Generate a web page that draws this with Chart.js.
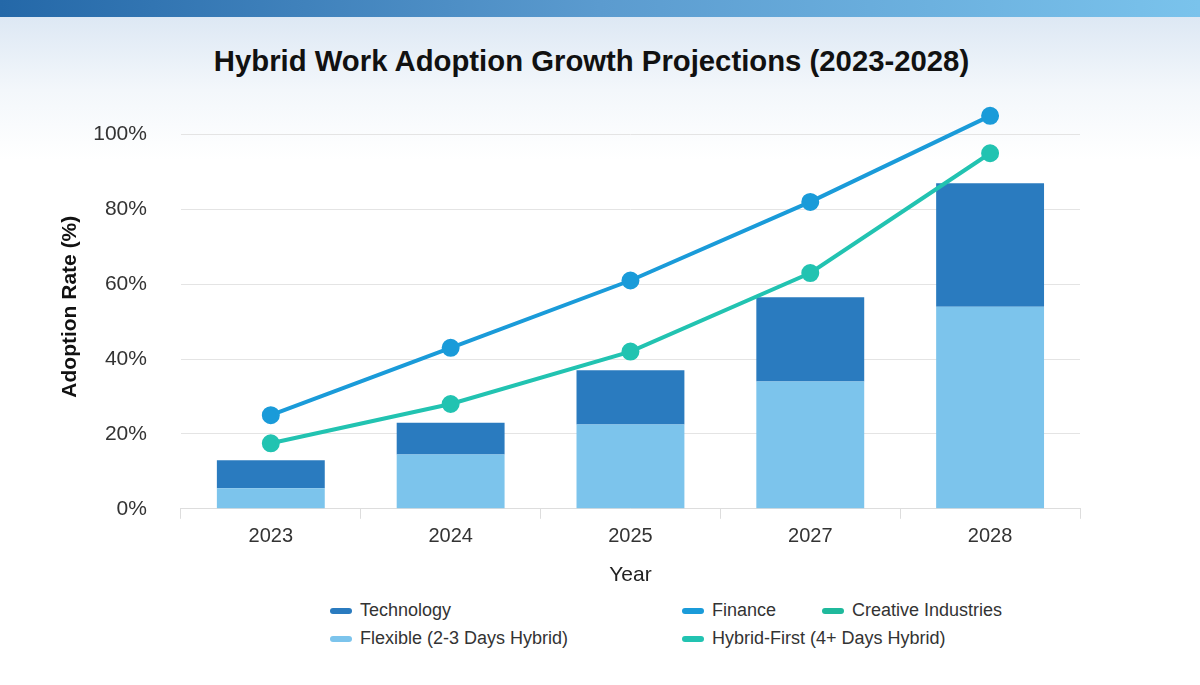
<!DOCTYPE html>
<html>
<head>
<meta charset="utf-8">
<script src="https://cdn.jsdelivr.net/npm/chart.js@4"></script>
<style>
  body { margin: 0; width: 1200px; height: 685px; overflow: hidden; font-family: "Liberation Sans", Arial, sans-serif;
    background: linear-gradient(to bottom, #dde8f4 17px, #f3f7fb 90px, #ffffff 160px); position: relative; }
  #topbar { position: absolute; left: 0; top: 0; width: 1200px; height: 17px; background: linear-gradient(to right, #2468a8, #5b9bcf 50%, #7ac3ec); }
  #title { position: absolute; top: 44px; left: 0; width: 1183px; text-align: center; font-size: 29.3px; font-weight: bold; color: #111; }
  #wrap { position: absolute; left: 0; top: 58px; width: 1200px; height: 534px; }
  #legend { position: absolute; top: 600px; left: 330px; font-size: 18px; color: #333; }
  .it { position: absolute; white-space: nowrap; display: flex; align-items: center; }
  .sw { width: 22px; height: 6px; border-radius: 3px; margin-right: 8px; }
</style>
</head>
<body>
<div id="topbar"></div>
<div id="title">Hybrid Work Adoption Growth Projections (2023-2028)</div>
<div id="wrap"><canvas id="c"></canvas></div>
<div id="legend"></div>
<script>
const years = ['2023', '2024', '2025', '2027', '2028'];
const flexible = [5.5, 14.5, 22.5, 34, 54];
const technology = [7.5, 8.5, 14.5, 22.5, 33];
const finance = [25, 43, 61, 82, 105];
const hybridFirst = [17.5, 28, 42, 63, 95];
const creativeIndustries = [null, null, null, null, null];

const colors = { tech: '#2a7bbf', flex: '#7cc4ec', fin: '#1a9bd9', hyb: '#22c3b1', cre: '#1fb99c' };

new Chart(document.getElementById('c'), {
  data: {
    labels: years,
    datasets: [
      { type: 'line', label: 'Finance', data: finance, stack: 'fin', borderColor: colors.fin, backgroundColor: colors.fin, borderWidth: 4, pointRadius: 7, order: 0 },
      { type: 'line', label: 'Hybrid-First (4+ Days Hybrid)', data: hybridFirst, stack: 'hyb', borderColor: colors.hyb, backgroundColor: colors.hyb, borderWidth: 4, pointRadius: 7, order: 0 },
      { type: 'line', label: 'Creative Industries', data: creativeIndustries, stack: 'cre', borderColor: colors.cre, order: 0 },
      { type: 'bar', label: 'Flexible (2-3 Days Hybrid)', data: flexible, backgroundColor: colors.flex, stack: 's', order: 1, barPercentage: 0.6, categoryPercentage: 1 },
      { type: 'bar', label: 'Technology', data: technology, backgroundColor: colors.tech, stack: 's', order: 1, barPercentage: 0.6, categoryPercentage: 1 }
    ]
  },
  options: {
    responsive: true, maintainAspectRatio: false, animation: false,
    layout: { padding: { left: 58, right: 120, top: 11, bottom: 0 } },
    plugins: { legend: { display: false }, tooltip: { enabled: false } },
    scales: {
      x: {
        stacked: true,
        grid: { offset: true, drawOnChartArea: false, tickLength: 10, color: '#ddd' },
        border: { color: '#ddd' },
        ticks: { color: '#333', font: { size: 20, family: 'Liberation Sans' }, padding: 6 },
        title: { display: true, text: 'Year', color: '#222', font: { size: 21, family: 'Liberation Sans' }, padding: { top: 8 } }
      },
      y: {
        stacked: true, min: 0, max: 108,
        afterBuildTicks: a => { a.ticks = [0, 20, 40, 60, 80, 100].map(v => ({ value: v })); },
        grid: { color: '#e4e4e4', drawTicks: false },
        border: { display: false },
        ticks: { color: '#333', padding: 34, font: { size: 21, family: 'Liberation Sans' }, callback: v => v + '%' },
        title: { display: true, text: 'Adoption Rate (%)', color: '#111', font: { size: 21, weight: 'bold', family: 'Liberation Sans' }, padding: { top: 0, bottom: -24 } }
      }
    }
  }
});

const items = [
  ['Technology', colors.tech, 0, 0], ['Finance', colors.fin, 352, 0], ['Creative Industries', colors.cre, 492, 0],
  ['Flexible (2-3 Days Hybrid)', colors.flex, 0, 28], ['Hybrid-First (4+ Days Hybrid)', colors.hyb, 352, 28]
];
const lg = document.getElementById('legend');
items.forEach(([t, c, x, y]) => {
  const d = document.createElement('div');
  d.className = 'it'; d.style.left = x + 'px'; d.style.top = y + 'px';
  d.innerHTML = '<span class="sw" style="background:' + c + '"></span>' + t;
  lg.appendChild(d);
});
</script>
</body>
</html>
